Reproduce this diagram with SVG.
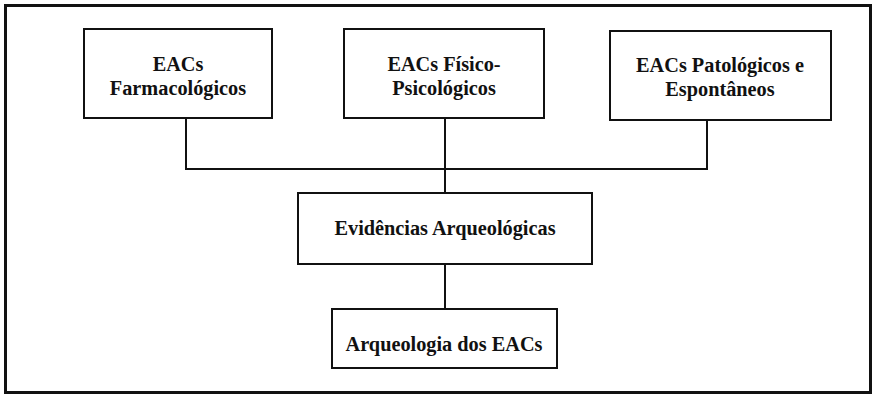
<svg xmlns="http://www.w3.org/2000/svg" width="873" height="395" viewBox="0 0 873 395">
<style>
.box{fill:#fff;stroke:#111;stroke-width:2}
.t{font-family:"Liberation Serif","Times New Roman",serif;font-weight:bold;font-size:20.3px;fill:#111;text-anchor:middle}
.c{stroke:#111;stroke-width:2;fill:none}
</style>
<rect x="0" y="0" width="873" height="395" fill="#fff"/>
<rect x="5.5" y="5.5" width="865" height="387" fill="none" stroke="#111" stroke-width="3"/>
<g id="connectors">
<polyline class="c" points="186,118 186,169 707,169 707,120"/>
<line class="c" x1="445" y1="118" x2="445" y2="193"/>
<line class="c" x1="445" y1="264" x2="445" y2="309"/>
</g>
<g id="n1"><rect class="box" x="84" y="29" width="188" height="89"/><text class="t" x="178" y="71">EACs</text><text class="t" x="178" y="95">Farmacológicos</text></g>
<g id="n2"><rect class="box" x="344" y="29" width="200" height="89"/><text class="t" x="444" y="71">EACs Físico-</text><text class="t" x="444" y="95">Psicológicos</text></g>
<g id="n3"><rect class="box" x="610" y="31" width="221" height="89"/><text class="t" x="720" y="72">EACs Patológicos e</text><text class="t" x="720" y="96">Espontâneos</text></g>
<g id="n4"><rect class="box" x="298" y="193" width="294" height="71"/><text class="t" x="445" y="235">Evidências Arqueológicas</text></g>
<g id="n5"><rect class="box" x="332" y="309" width="225" height="59"/><text class="t" x="444" y="351">Arqueologia dos EACs</text></g>
</svg>
